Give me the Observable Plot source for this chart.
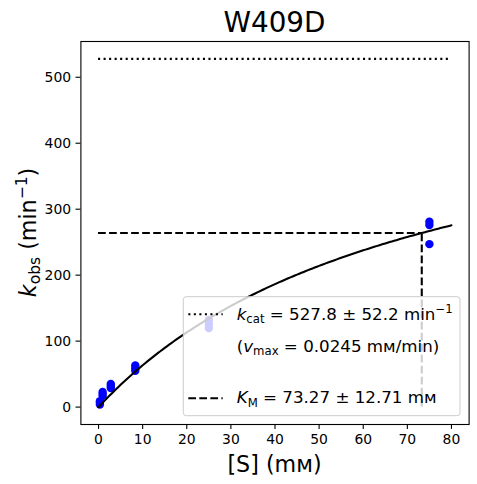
<!DOCTYPE html>
<html><head><meta charset="utf-8">
<script src="https://cdn.jsdelivr.net/npm/d3@7"></script>
<script src="https://cdn.jsdelivr.net/npm/@observablehq/plot@0.6"></script>
<style>body{margin:0;background:#fff}#chart svg{display:block}</style>
</head><body><div id="chart"></div>
<script>
const chartTitle = "W409D";
const substrate = [0.309,0.309,0.309, 0.926,0.926,0.926, 2.78,2.78,2.78, 8.33,8.33,8.33, 25,25,25, 75,75,75];
const kobs      = [4,6.5,9, 17,20,23, 29,32,35, 55,59,63, 120,126,132, 247,276,281];
const xTicks = [0,10,20,30,40,50,60,70,80];
const yTicks = [0,100,200,300,400,500];
const kcat = 527.8, kcatErr = 52.2, vmax = 0.0245, KM = 73.27, KMErr = 12.71;
const fitRange = [0, 80];

const points = substrate.map((s, i) => ({s, k: kobs[i]}));
const fit = d3.range(fitRange[0], fitRange[1] + 0.001, 0.5).map(s => ({s, k: kcat * s / (KM + s)}));

const W = 477, H = 484;
const mL = 80.4, mR = 8.4, mT = 41, mB = 60;
const font = "DejaVu Sans";

const plot = Plot.plot({
  width: W, height: H,
  marginLeft: mL, marginRight: mR, marginTop: mT, marginBottom: mB,
  style: {fontFamily: font, fontSize: "13.9px", background: "white", color: "black"},
  x: {domain: [-4, 84], label: null},
  y: {domain: [-26.39, 554.19], label: null},
  marks: [
    Plot.dot(points, {x: "s", y: "k", r: 4.2, fill: "#0000ff", stroke: "none"}),
    Plot.line(fit, {x: "s", y: "k", stroke: "black", strokeWidth: 2.08}),
    Plot.ruleY([kcat], {x1: fitRange[0], x2: fitRange[1], stroke: "black", strokeWidth: 2.08, strokeDasharray: "2.08,3.44"}),
    Plot.ruleY([kcat / 2], {x1: 0, x2: KM, stroke: "black", strokeWidth: 2.08, strokeDasharray: "7.7,3.33"}),
    Plot.ruleX([KM], {y1: 0, y2: kcat / 2, stroke: "black", strokeWidth: 2.08, strokeDasharray: "7.7,3.33"}),
    Plot.axisX({ticks: xTicks, tickSize: 4.9, tickPadding: 4.9, strokeWidth: 1.1, fontSize: 13.9, tickFormat: d => String(d)}),
    Plot.axisY({ticks: yTicks, tickSize: 4.9, tickPadding: 4.9, strokeWidth: 1.1, fontSize: 13.9, tickFormat: d => String(d)}),
    Plot.frame({stroke: "black", strokeWidth: 1.1})
  ]
});
document.getElementById("chart").append(plot);

const svg = d3.select(plot);

function rich(sel, parts, fs) {
  let cur = 0;
  for (const p of parts) {
    const shift = p.sub ? 0.2 * fs : p.sup ? -0.4 * fs : 0;
    const ts = sel.append("tspan").text(p.t).attr("dy", shift - cur);
    if (p.sub || p.sup) ts.attr("font-size", fs * 0.7);
    if (p.it) ts.attr("font-style", "italic");
    cur = shift;
  }
}

const cx = mL + (W - mL - mR) / 2;
// title
svg.append("text").attr("x", cx).attr("y", 32).attr("text-anchor", "middle")
  .attr("font-family", font).attr("font-size", 27.8).attr("fill", "black").text(chartTitle);
// x label
svg.append("text").attr("x", cx).attr("y", 471.5).attr("text-anchor", "middle")
  .attr("font-family", font).attr("font-size", 22.2).attr("fill", "black").text("[S] (mᴍ)");
// y label
const yl = svg.append("text").attr("transform", `translate(35.5,${mT + (H - mT - mB) / 2}) rotate(-90)`)
  .attr("text-anchor", "middle").attr("font-family", font).attr("font-size", 22.2).attr("fill", "black");
rich(yl, [{t: "k", it: true}, {t: "obs", sub: true}, {t: " (min"}, {t: "−1", sup: true}, {t: ")"}], 22.2);

// legend
const lg = svg.append("g").attr("text-anchor", "start");
lg.append("rect").attr("x", 183.3).attr("y", 296.7).attr("width", 276.7).attr("height", 119)
  .attr("rx", 3).attr("fill", "white").attr("fill-opacity", 0.8).attr("stroke", "#cccccc").attr("stroke-width", 1);
lg.append("line").attr("x1", 188.3).attr("x2", 222.7).attr("y1", 314.3).attr("y2", 314.3)
  .attr("stroke", "black").attr("stroke-width", 2.08).attr("stroke-dasharray", "2.08,3.44");
lg.append("line").attr("x1", 188.3).attr("x2", 222.7).attr("y1", 398.3).attr("y2", 398.3)
  .attr("stroke", "black").attr("stroke-width", 2.08).attr("stroke-dasharray", "7.7,3.33");
const fs = 16.7;
function legendText(y) {
  return lg.append("text").attr("x", 236.7).attr("y", y).attr("text-anchor", "start")
    .attr("font-family", font).attr("font-size", fs).attr("fill", "black");
}
rich(legendText(320), [{t: "k", it: true}, {t: "cat", sub: true}, {t: ` = ${kcat} ± ${kcatErr} min`}, {t: "−1", sup: true}], fs);
rich(legendText(351.7), [{t: "("}, {t: "v", it: true}, {t: "max", sub: true}, {t: ` = ${vmax} mᴍ/min)`}], fs);
rich(legendText(403.3), [{t: "K", it: true}, {t: "M", sub: true}, {t: ` = ${KM} ± ${KMErr} mᴍ`}], fs);
</script>
</body></html>
